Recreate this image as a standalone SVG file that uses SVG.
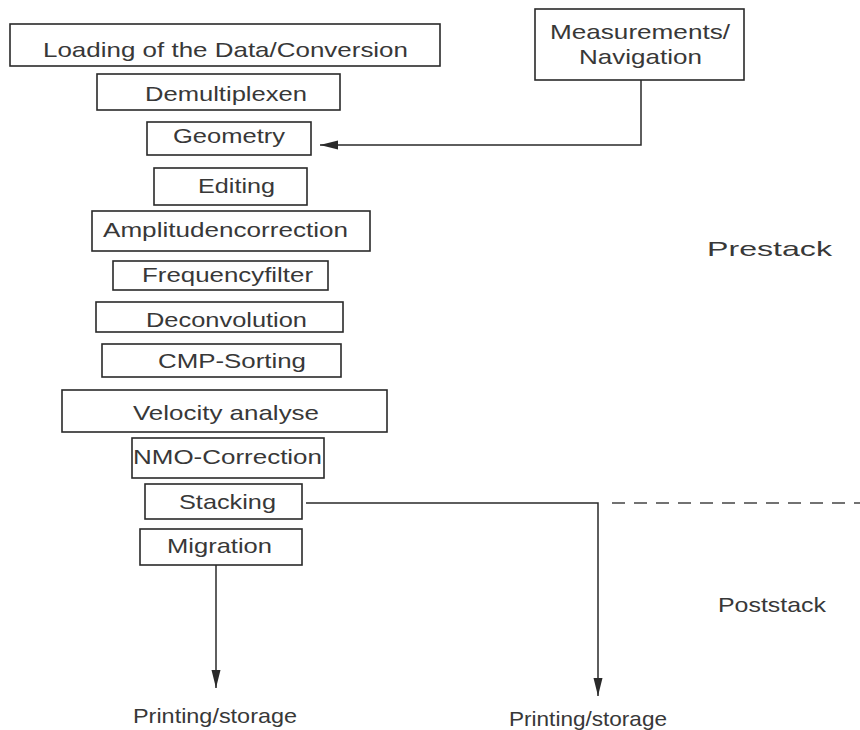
<svg xmlns="http://www.w3.org/2000/svg" width="860" height="730" viewBox="0 0 860 730">
<style>
.box{fill:#fff;stroke:#2a2a2a;stroke-width:1.6}
.t{font-family:"Liberation Sans",Arial,sans-serif;font-size:21px;fill:#383838}
.c{fill:none;stroke:#2a2a2a;stroke-width:1.5}
.d{fill:none;stroke:#444;stroke-width:1.5;stroke-dasharray:13 9}
</style>
<defs>
<marker id="ah" markerUnits="userSpaceOnUse" markerWidth="18" markerHeight="10" refX="18" refY="5" orient="auto">
<path d="M0,0.5 L18,5 L0,9.5 Z" fill="#2a2a2a"/>
</marker>
</defs>
<rect width="860" height="730" fill="#fff"/>
<g id="connectors">
<path class="c" d="M641,80 V145 H320" marker-end="url(#ah)"/>
<path class="c" d="M306,503 H598 V696" marker-end="url(#ah)"/>
<path class="c" d="M216,565 V688" marker-end="url(#ah)"/>
<path class="d" d="M612,503 H860"/>
</g>
<g id="n-loading"><rect class="box" x="10" y="24" width="430" height="42"/><text class="t" x="43" y="57" textLength="365" lengthAdjust="spacingAndGlyphs">Loading of the Data/Conversion</text></g>
<g id="n-measure"><rect class="box" x="535" y="9" width="209" height="71"/><text class="t" x="550" y="39" textLength="180" lengthAdjust="spacingAndGlyphs">Measurements/</text><text class="t" x="579" y="64" textLength="123" lengthAdjust="spacingAndGlyphs">Navigation</text></g>
<g id="n-demux"><rect class="box" x="97" y="74" width="243" height="36"/><text class="t" x="145" y="101" textLength="162" lengthAdjust="spacingAndGlyphs">Demultiplexen</text></g>
<g id="n-geometry"><rect class="box" x="147" y="122" width="164" height="33"/><text class="t" x="173" y="143" textLength="112" lengthAdjust="spacingAndGlyphs">Geometry</text></g>
<g id="n-editing"><rect class="box" x="154" y="168" width="153" height="37"/><text class="t" x="198" y="193" textLength="77" lengthAdjust="spacingAndGlyphs">Editing</text></g>
<g id="n-ampl"><rect class="box" x="92" y="211" width="278" height="40"/><text class="t" x="103" y="237" textLength="245" lengthAdjust="spacingAndGlyphs">Amplitudencorrection</text></g>
<g id="n-freq"><rect class="box" x="113" y="261" width="215" height="29"/><text class="t" x="142" y="282" textLength="171" lengthAdjust="spacingAndGlyphs">Frequencyfilter</text></g>
<g id="n-decon"><rect class="box" x="96" y="302" width="247" height="30"/><text class="t" x="146" y="327" textLength="161" lengthAdjust="spacingAndGlyphs">Deconvolution</text></g>
<g id="n-cmp"><rect class="box" x="102" y="344" width="239" height="33"/><text class="t" x="158" y="368" textLength="148" lengthAdjust="spacingAndGlyphs">CMP-Sorting</text></g>
<g id="n-velocity"><rect class="box" x="62" y="390" width="325" height="42"/><text class="t" x="133" y="420" textLength="186" lengthAdjust="spacingAndGlyphs">Velocity analyse</text></g>
<g id="n-nmo"><rect class="box" x="132" y="438" width="192" height="40"/><text class="t" x="133" y="464" textLength="189" lengthAdjust="spacingAndGlyphs">NMO-Correction</text></g>
<g id="n-stacking"><rect class="box" x="145" y="484" width="157" height="35"/><text class="t" x="179" y="509" textLength="97" lengthAdjust="spacingAndGlyphs">Stacking</text></g>
<g id="n-migration"><rect class="box" x="140" y="529" width="162" height="36"/><text class="t" x="167" y="553" textLength="105" lengthAdjust="spacingAndGlyphs">Migration</text></g>
<g id="labels">
<text class="t" x="707" y="256" textLength="125" lengthAdjust="spacingAndGlyphs">Prestack</text>
<text class="t" x="718" y="612" textLength="108" lengthAdjust="spacingAndGlyphs">Poststack</text>
<text class="t" x="133" y="723" textLength="164" lengthAdjust="spacingAndGlyphs">Printing/storage</text>
<text class="t" x="509" y="726" textLength="158" lengthAdjust="spacingAndGlyphs">Printing/storage</text>
</g>
</svg>
